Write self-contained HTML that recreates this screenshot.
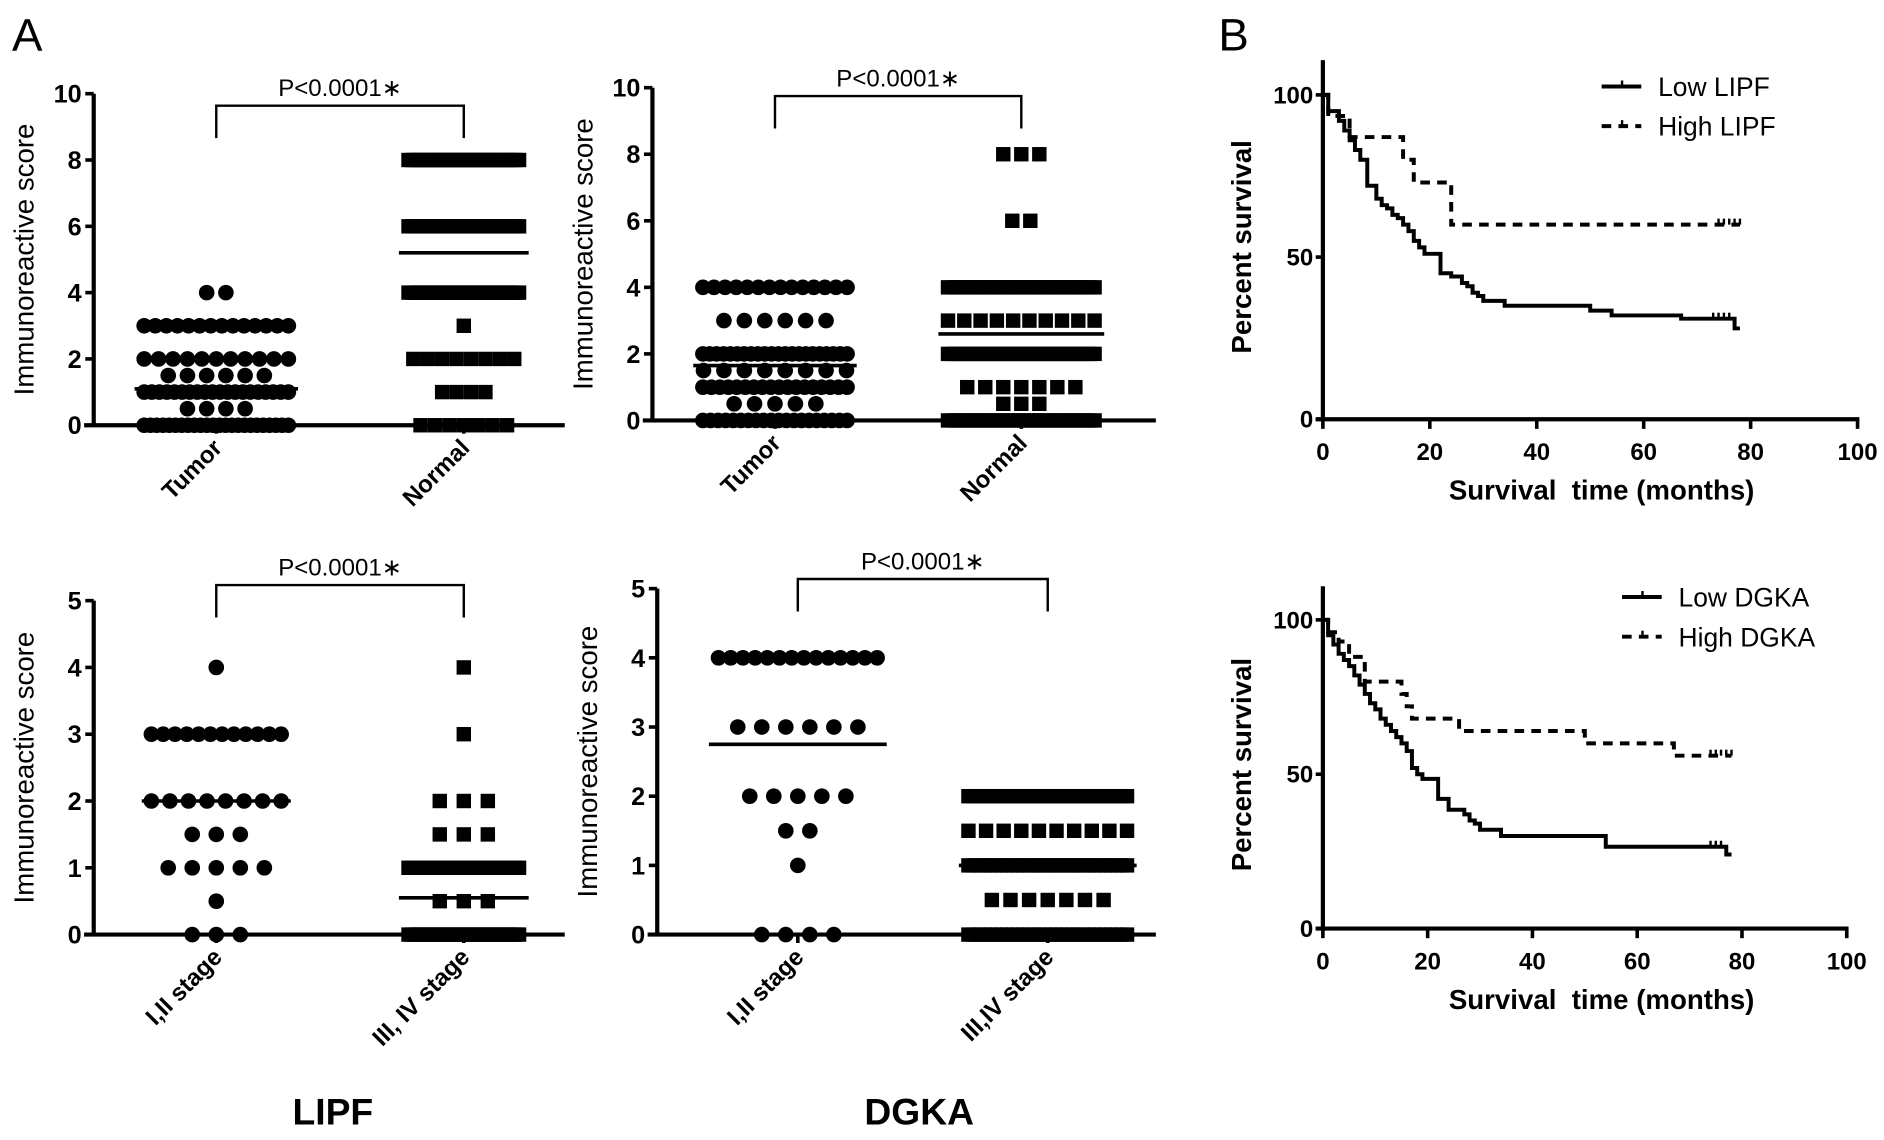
<!DOCTYPE html>
<html><head><meta charset="utf-8"><style>
html,body{margin:0;padding:0;background:#fff;}
svg{display:block;font-family:"Liberation Sans",Arial,sans-serif;}
</style></head><body>
<svg id="fig" width="1884" height="1140" viewBox="0 0 1568 949" preserveAspectRatio="none" xmlns="http://www.w3.org/2000/svg">
<text x="10" y="42" font-size="38">A</text>
<text x="1014" y="42" font-size="38">B</text>
<text x="277" y="936" font-size="31" font-weight="bold" text-anchor="middle">LIPF</text>
<text x="765" y="936" font-size="31" font-weight="bold" text-anchor="middle">DGKA</text>
</svg>
<script>
// ---------- scatter data ----------
const p1Categories = ["Tumor", "Normal"];
const p1TumorValues = [4, 3, 2, 1.5, 1, 0.5, 0];
const p1TumorCounts = [2, 14, 11, 6, 20, 4, 24];
const p1NormalValues = [8, 6, 4, 3, 2, 1, 0];
const p1NormalCounts = [30, 28, 28, 1, 8, 4, 7];
const p1Means = [1.1, 5.2];
const p1Ticks = [0, 2, 4, 6, 8, 10];

const p2Categories = ["Tumor", "Normal"];
const p2TumorValues = [4, 3, 2, 1.5, 1, 0.5, 0];
const p2TumorCounts = [14, 6, 22, 8, 18, 5, 20];
const p2NormalValues = [8, 6, 4, 3, 2, 1, 0.5, 0];
const p2NormalCounts = [3, 2, 30, 10, 30, 7, 3, 30];
const p2Means = [1.65, 2.6];
const p2Ticks = [0, 2, 4, 6, 8, 10];

const p3Categories = ["I,II stage", "III, IV stage"];
const p3EarlyValues = [4, 3, 2, 1.5, 1, 0.5, 0];
const p3EarlyCounts = [1, 12, 8, 3, 5, 1, 3];
const p3LateValues = [4, 3, 2, 1.5, 1, 0.5, 0];
const p3LateCounts = [1, 1, 3, 3, 30, 3, 30];
const p3Means = [2.0, 0.55];
const p3Ticks = [0, 1, 2, 3, 4, 5];

const p4Categories = ["I,II stage", "III,IV stage"];
const p4EarlyValues = [4, 3, 2, 1.5, 1, 0];
const p4EarlyCounts = [14, 6, 5, 2, 1, 4];
const p4LateValues = [2, 1.5, 1, 0.5, 0];
const p4LateCounts = [30, 10, 30, 7, 30];
const p4Means = [2.75, 1.0];
const p4Ticks = [0, 1, 2, 3, 4, 5];

// ---------- survival data ----------
const kmXTicks = [0, 20, 40, 60, 80, 100];
const kmYTicks = [0, 50, 100];
const lowLipfTimes = [0,1,3,4,5,6,7,8.3,10,11,12,13,14,15,16,17,18,19,22,24,26,27,28,29,30,34,50,54,67,77,78];
const lowLipfSurv  = [100,95,92,89,86,83,80,72,68,66,65,63,62,60,58,55,53,51,45,44,42,41,39,38,36.5,35,33.5,32,31,28,28];
const lowLipfCensor = [73,74,75,76];
const highLipfTimes = [0,1,5,15,17,24,78];
const highLipfSurv  = [100,93.5,87,80,73,60,60];
const highLipfCensor = [74,75,76,77,78];
const lowDgkaTimes = [0,1,2,3,4,5,6,7,8,9,10,11,12,13,14,15,16,17,18,19,22,24,27,28,29,30,34,54,77,78];
const lowDgkaSurv  = [100,95,92,89,87,85,82,79,76,73,71,68,66,64,62,60,57.5,52,50,48.5,42,38.5,37,35,34,32,30,26.5,24,24];
const lowDgkaCensor = [74,75,76];
const highDgkaTimes = [0,1,3,5,8,15,16,17,26,50,67,78];
const highDgkaSurv  = [100,96,93,88,80,76,72,68,64,60,56,56];
const highDgkaCensor = [74,75,76,77,78];

const svg = document.getElementById('fig');
const NS = 'http://www.w3.org/2000/svg';
function mk(tag, attrs, parent) {
  const e = document.createElementNS(NS, tag);
  for (const k in attrs) e.setAttribute(k, attrs[k]);
  (parent || svg).appendChild(e);
  return e;
}

function scatterPanel(cfg) {
  const g = mk('g', {});
  
  
  const y = v => cfg.y0 - (v / cfg.ymax) * (cfg.y0 - cfg.yTop);
  const ya = mk('line', {x1: cfg.ax, y1: cfg.yTop, x2: cfg.ax, y2: cfg.y0, stroke: '#000', 'stroke-width': 3.5}, g);
  
  
  const xa = mk('line', {x1: cfg.ax - 8, y1: cfg.y0, x2: cfg.xEnd, y2: cfg.y0, stroke: '#000', 'stroke-width': 3.5}, g);
  
  
  cfg.ticks.forEach(t => {
    mk('line', {x1: cfg.ax - 7, y1: y(t), x2: cfg.ax, y2: y(t), stroke: '#000', 'stroke-width': 3}, g);
    const tl = mk('text', {x: cfg.ax - 10, y: y(t) + 7.5, 'font-size': 21, 'font-weight': 'bold', 'text-anchor': 'end'}, g);
    tl.textContent = t;
    
    
  });
  const yt = mk('text', {x: 0, y: 0, 'font-size': 23, 'text-anchor': 'middle', transform: `translate(${cfg.ax - 50},${(cfg.yTop + cfg.y0) / 2}) rotate(-90)`}, g);
  yt.textContent = 'Immunoreactive score';
  
  
  const br = mk('path', {d: `M${cfg.cx[0]},${cfg.brY + 27} V${cfg.brY} H${cfg.cx[1]} V${cfg.brY + 27}`, fill: 'none', stroke: '#000', 'stroke-width': 2}, g);
  
  
  const pt = mk('text', {x: (cfg.cx[0] + cfg.cx[1]) / 2, y: cfg.brY - 8, 'font-size': 20, 'text-anchor': 'middle'}, g);
  pt.textContent = 'P<0.0001\u2217';
  
  
  cfg.groups.forEach((grp, gi) => {
    const cx = cfg.cx[gi];
    mk('line', {x1: cx, y1: cfg.y0, x2: cx, y2: cfg.y0 + 7, stroke: '#000', 'stroke-width': 3}, g);
    const cl = mk('text', {x: 0, y: 0, 'font-size': 20, 'font-weight': 'bold', 'text-anchor': 'end', transform: `translate(${cx + 6},${cfg.y0 + 20}) rotate(-45)`}, g);
    cl.textContent = cfg.categories[gi];
    
    
    grp.values.forEach((v, i) => {
      const n = grp.counts[i];
      const sp = n > 1 ? Math.min(grp.cap, grp.maxW / (n - 1)) : 0;
      for (let k = 0; k < n; k++) {
        const px = cx + (k - (n - 1) / 2) * sp;
        let m;
        if (grp.shape === 'circle') m = mk('circle', {cx: px, cy: y(v), r: 6.5, fill: '#000'}, g);
        else m = mk('rect', {x: px - 6, y: y(v) - 6, width: 12, height: 12, fill: '#000'}, g);
        
        
      }
    });
    const hw = grp.maxW / 2 + 8;
    const ml = mk('line', {x1: cx - hw, y1: y(cfg.means[gi]), x2: cx + hw, y2: y(cfg.means[gi]), stroke: '#000', 'stroke-width': 3}, g);
    
    
  });
}

scatterPanel({name: 'lipf-tumor-normal-plot', ax: 78, yTop: 78, y0: 354, ymax: 10, xEnd: 470, ticks: p1Ticks, brY: 88,
  cx: [180, 386], categories: p1Categories, means: p1Means,
  groups: [{values: p1TumorValues, counts: p1TumorCounts, shape: 'circle', cap: 16, maxW: 120},
           {values: p1NormalValues, counts: p1NormalCounts, shape: 'square', cap: 12, maxW: 92}]});
scatterPanel({name: 'dgka-tumor-normal-plot', ax: 543, yTop: 73, y0: 350, ymax: 10, xEnd: 962, ticks: p2Ticks, brY: 80,
  cx: [645, 850], categories: p2Categories, means: p2Means,
  groups: [{values: p2TumorValues, counts: p2TumorCounts, shape: 'circle', cap: 17, maxW: 120},
           {values: p2NormalValues, counts: p2NormalCounts, shape: 'square', cap: 15, maxW: 122}]});
scatterPanel({name: 'lipf-stage-plot', ax: 78, yTop: 500, y0: 778, ymax: 5, xEnd: 470, ticks: p3Ticks, brY: 487,
  cx: [180, 386], categories: p3Categories, means: p3Means,
  groups: [{values: p3EarlyValues, counts: p3EarlyCounts, shape: 'circle', cap: 20, maxW: 108},
           {values: p3LateValues, counts: p3LateCounts, shape: 'square', cap: 20, maxW: 92}]});
scatterPanel({name: 'dgka-stage-plot', ax: 547, yTop: 490, y0: 778, ymax: 5, xEnd: 962, ticks: p4Ticks, brY: 482,
  cx: [664, 872], categories: p4Categories, means: p4Means,
  groups: [{values: p4EarlyValues, counts: p4EarlyCounts, shape: 'circle', cap: 20, maxW: 132},
           {values: p4LateValues, counts: p4LateCounts, shape: 'square', cap: 15.5, maxW: 132}]});

function kmPanel(cfg) {
  const g = mk('g', {});
  
  
  const x = t => cfg.x0 + t / 100 * (cfg.x100 - cfg.x0);
  const y = s => cfg.y0 - s / 100 * (cfg.y0 - cfg.y100);
  const ya = mk('line', {x1: cfg.x0, y1: cfg.yTop, x2: cfg.x0, y2: cfg.y0 + 2, stroke: '#000', 'stroke-width': 3.5}, g);
  
  
  const xa = mk('line', {x1: cfg.x0 - 6, y1: cfg.y0, x2: cfg.x100 + 1.5, y2: cfg.y0, stroke: '#000', 'stroke-width': 3.5}, g);
  
  
  kmXTicks.forEach(t => {
    mk('line', {x1: x(t), y1: cfg.y0, x2: x(t), y2: cfg.y0 + 8, stroke: '#000', 'stroke-width': 3}, g);
    const tl = mk('text', {x: x(t), y: cfg.y0 + 34, 'font-size': 20, 'font-weight': 'bold', 'text-anchor': 'middle'}, g);
    tl.textContent = t;
    
    
  });
  kmYTicks.forEach(t => {
    mk('line', {x1: cfg.x0 - 6, y1: y(t), x2: cfg.x0, y2: y(t), stroke: '#000', 'stroke-width': 3}, g);
    const tl = mk('text', {x: cfg.x0 - 8, y: y(t) + 7, 'font-size': 20, 'font-weight': 'bold', 'text-anchor': 'end'}, g);
    tl.textContent = t;
    
    
  });
  const xt = mk('text', {x: 1333, y: cfg.y0 + 67, 'font-size': 23, 'font-weight': 'bold', 'text-anchor': 'middle'}, g);
  xt.textContent = 'Survival\u00a0 time (months)';
  
  
  const yt = mk('text', {x: 0, y: 0, 'font-size': 23, 'font-weight': 'bold', 'text-anchor': 'middle', transform: `translate(${cfg.x0 - 60},${(cfg.yTop + cfg.y0) / 2 + 6}) rotate(-90)`}, g);
  yt.textContent = 'Percent survival';
  
  
  cfg.series.forEach((s, si) => {
    let d = `M${x(s.times[0])},${y(s.surv[0])}`;
    for (let i = 1; i < s.times.length; i++) d += ` H${x(s.times[i])} V${y(s.surv[i])}`;
    const p = mk('path', {d, fill: 'none', stroke: '#000', 'stroke-width': 3.3, 'stroke-dasharray': s.dash}, g);
    
    
    s.censor.forEach(ct => {
      let sv = s.surv[0];
      for (let i = 0; i < s.times.length; i++) if (s.times[i] <= ct) sv = s.surv[i];
      const c = mk('line', {x1: x(ct), y1: y(sv) - 5, x2: x(ct), y2: y(sv), stroke: '#000', 'stroke-width': 2}, g);
      
      
    });
    const ly = cfg.legY + si * 33;
    const ll = mk('line', {x1: cfg.legX, y1: ly, x2: cfg.legX + 33, y2: ly, stroke: '#000', 'stroke-width': 3.3, 'stroke-dasharray': s.dash}, g);
    
    
    mk('line', {x1: cfg.legX + 17, y1: ly - 5, x2: cfg.legX + 17, y2: ly, stroke: '#000', 'stroke-width': 2}, g);
    const lt = mk('text', {x: cfg.legX + 47, y: ly + 8, 'font-size': 22}, g);
    lt.textContent = s.label;
    
    
  });
}

kmPanel({name: 'lipf-survival-plot', x0: 1101, x100: 1546, y0: 349, y100: 79, yTop: 50, legX: 1333, legY: 72,
  series: [{name: 'low-lipf', label: 'Low LIPF', times: lowLipfTimes, surv: lowLipfSurv, censor: lowLipfCensor, dash: 'none'},
           {name: 'high-lipf', label: 'High LIPF', times: highLipfTimes, surv: highLipfSurv, censor: highLipfCensor, dash: '8,6'}]});
kmPanel({name: 'dgka-survival-plot', x0: 1101, x100: 1537, y0: 773, y100: 516, yTop: 488, legX: 1350, legY: 497,
  series: [{name: 'low-dgka', label: 'Low DGKA', times: lowDgkaTimes, surv: lowDgkaSurv, censor: lowDgkaCensor, dash: 'none'},
           {name: 'high-dgka', label: 'High DGKA', times: highDgkaTimes, surv: highDgkaSurv, censor: highDgkaCensor, dash: '8,6'}]});
</script>
</body></html>
